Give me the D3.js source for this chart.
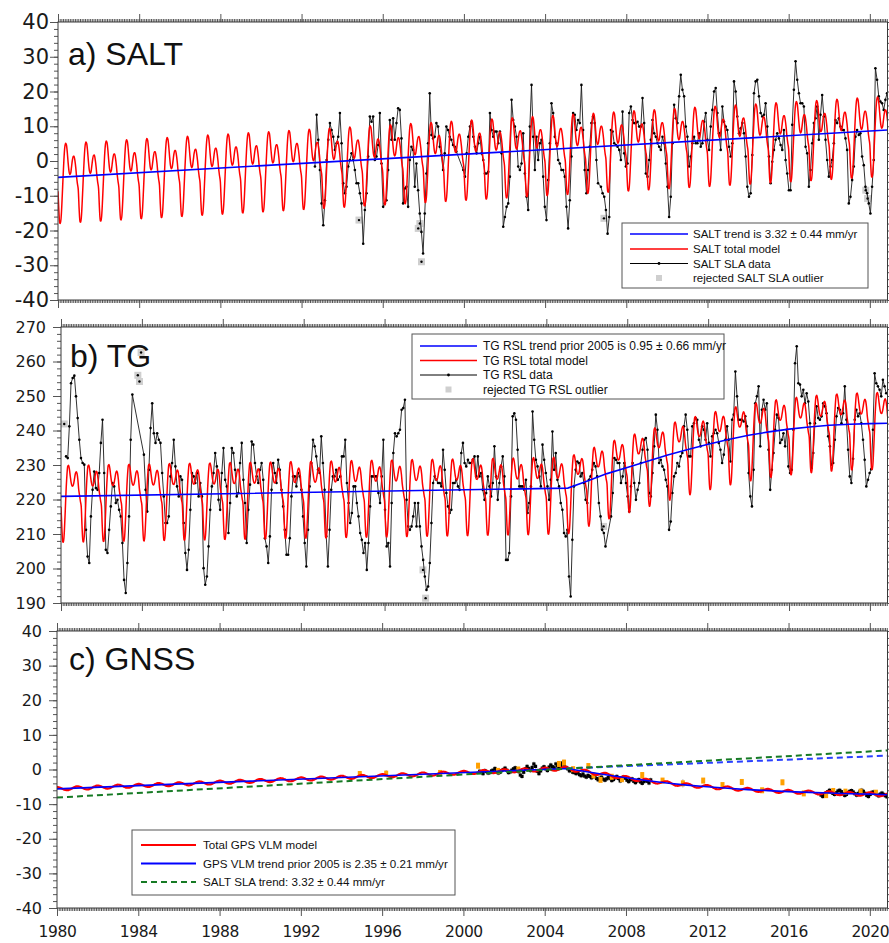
<!DOCTYPE html>
<html>
<head>
<meta charset="utf-8">
<script src="https://cdn.jsdelivr.net/npm/d3@7"></script>
<style>
  body { margin: 0; background: #fff; }
  svg { display: block; font-family: "Liberation Sans", Arial, sans-serif; }
  .tick text { font-family: "DejaVu Sans", sans-serif; fill: #1a1a1a; }
  .tick line { stroke: #555; }
</style>
</head>
<body>
<script>
const X_START = 1980, X_END = 2020.87, PLOT_RIGHT = 887.5;
const DT = 1 / 12.2;   // spacing of the monthly samples

// ---------------- a) SALT ----------------
const saltTrendYears = [1980, 2020.87];
const saltTrendValues = [-4.7, 8.9];
// mean seasonal cycle, 24 steps per year
const saltSeason = [-4, -9.5, -13.2, -13.3, -10.5, -5.5, 0, 5, 8.5, 9.7, 9.2, 7,
                    4, 1.6, 0.6, 1, 2.8, 4.7, 5.8, 5.8, 4.5, 2.5, -0.2, -2.2];
const saltStarts = [1992.66, 1999.97, 2006.75];
const saltSla1 = [-1.6, 13.3, 6.1, -2.6, -12.2, -18.5, -11.3, 0.3, 6.1, 10.9,
  8.9, 7.0, 3.2, 5.1, 7.0, 13.8, 5.1, -6.4, -9.3, -7.4,
  -1.6, 0.3, 2.2, 0.3, -2.6, -6.4, -6.4, -9.3, -12.2, -23.8,
  -14.1, -9.3, 1.3, 12.8, 11.3, 12.8, 0.3, 1.3, 4.6, 13.8,
  -0.7, -13.2, -12.2, -11.3, -2.6, 11.8, 6.1, 12.3, 6.1, 10.9,
  15.2, 14.7, 6.5, -12.2, -7.9, -7.4, -13.2, 0.3, 4.1, 3.2,
  -7.4, -0.7, -8.4, -15.1, -20.4, -26.6, -15.1, -3.6, 5.1, 19.5,
  7.5, 6.5, 7.0, 10.9, 9.9, 4.1, 1.7, -2.6, 2.2, 9.9,
  8.9, 7.0, 6.1, 4.6, 4.1, 2.7];
const saltSla2 = [-2.6, -4.5, 2.2, 7.0, 9.9, 11.3, 7.0, 4.1, 2.2, 5.1,
  7.0, 2.2, 0.3, -3.6, -3.6, -3.1, 13.8, 8.9, 7.0, 8.5,
  8.5, 5.1, 8.5, 2.2, -18.9, -16.1, -13.2, -12.2, -4.5, 17.6,
  11.8, 9.9, 7.0, -1.6, -2.6, -0.7, 8.0, -3.6, -10.3, -14.1,
  9.9, 21.9, 7.0, -2.6, 7.0, 0.3, 5.1, 6.1, -4.5, -13.2,
  -17.0, -5.5, 5.1, 16.6, 13.8, 7.0, 5.1, 0.3, -0.7, -2.6,
  -2.6, -4.5, -13.2, -19.4, -11.3, 1.3, 13.8, 13.3, 8.9, 11.8,
  10.9, 21.9, 8.9, -2.6, -9.3, -2.6, 4.1, 10.9, 12.8, 10.9,
  0.3, -6.4];
const saltSla3 = [-7.4, -9.3, -10.3, -14.1, -20.9, -16.1, 8.9, 8.5, 5.1, 4.6,
  4.1, 3.2, 0.3, 14.2, 2.2, -1.6, -0.7, 13.8, 15.7, 11.8,
  10.9, 10.9, 11.3, 9.9, 9.9, 18.1, 10.9, -3.6, -4.5, 0.3,
  6.1, 11.8, 8.0, 7.0, 5.1, 4.1, 3.2, 7.0, 5.1, -0.7,
  -7.4, -16.1, -10.3, 5.1, 16.2, 12.3, 10.9, 18.6, 24.8, 20.5,
  18.6, 9.9, 7.0, -1.6, 1.3, 5.1, 7.0, 5.1, 5.1, 8.0,
  4.1, 5.1, 11.3, 13.8, 6.1, 3.2, 9.9, 14.7, 20.0, 21.0,
  13.8, 8.0, 3.2, 15.7, 11.3, 9.9, 8.9, 4.1, 1.3, 5.1,
  22.9, 20.0, 12.8, 8.0, 9.4, 10.9, 8.0, 1.3, -7.4, -10.3,
  -9.3, 1.7, 19.5, 22.9, 23.4, 18.6, 13.8, 12.8, 13.3, 16.6,
  9.9, 1.3, -6.4, -0.2, 3.2, 6.1, 8.0, 6.5, 4.6, 3.2,
  8.9, 0.3, -3.6, -8.4, -8.4, 10.4, 20.5, 28.7, 23.4, 19.5,
  16.6, 16.6, 15.7, 4.1, 2.2, -7.4, -2.6, 5.1, 10.9, 12.3,
  15.7, 6.1, 13.3, 19.0, 12.8, 6.1, 0.3, -4.5, -1.6, 0.3,
  5.1, 11.8, 10.9, 12.3, 9.9, 8.9, 8.9, 6.5, 3.2, -12.2,
  -10.3, -5.5, -1.6, 7.0, 8.9, 7.5, 8.0, 1.3, -1.2, -7.4,
  -9.3, -12.2, -15.1, -7.4, 0.3, 26.7, 23.4, 18.6, 17.1, 16.6,
  14.7, 17.6, 19.5];
const saltOutYears = [1994.83, 1997.75, 1997.83, 1997.91, 2006.9, 2019.8, 2019.89];
const saltOutValues = [-17.0, -19.4, -18.0, -29.0, -16.5, -8.4, -10.8];

// ---------------- b) TG ----------------
const tgTrendYears = [1980, 2005.06, 2006, 2007, 2008, 2009, 2010, 2011, 2012,
                      2013, 2014, 2015, 2016, 2017, 2018, 2019, 2020, 2021];
const tgTrendValues = [220.9, 223.3, 225.3, 227.5, 229.3, 231.1, 232.9, 234.5, 236.0,
                       237.4, 238.6, 239.6, 240.4, 241.0, 241.5, 241.8, 242.0, 242.1];
const tgSeason = [-3, -9, -13.2, -13.3, -10, -4.5, 1.5, 6, 8.7, 9, 7.8, 5.8,
                  4, 3, 2.9, 3.6, 5, 6.5, 7.1, 6.6, 4.8, 2, 0.2, -1.5];
const tgStarts = [1980.25, 1984.1, 1993.81, 2007.2];
const tgRsl1 = [232.5, 232.0, 241.2, 253.7, 255.2, 255.9, 249.9, 243.6, 237.3, 232.0,
  230.6, 230.1, 211.2, 203.5, 201.6, 215.1, 222.8, 228.1, 223.3, 222.8,
  227.7, 236.4, 243.1, 227.7, 205.4, 204.5, 211.2, 218.0, 224.8, 223.8,
  219.0, 219.9, 217.0, 215.1, 207.4, 196.7, 192.9, 201.6, 215.1, 237.3,
  250.4];
const tgRsl2 = [233.0, 222.8, 216.5, 228.6, 240.7, 247.9, 239.2, 236.4, 239.2, 237.3,
  236.4, 227.7, 220.9, 213.2, 213.2, 215.1, 226.7, 230.6, 237.3, 229.6,
  223.8, 220.9, 226.7, 225.7, 213.2, 204.5, 199.6, 205.4, 217.0, 227.7,
  226.7, 224.8, 227.7, 220.9, 224.8, 220.9, 200.1, 195.3, 197.7, 206.4,
  217.0, 223.8, 227.7, 233.5, 229.6, 219.9, 217.0, 227.7, 234.9, 225.7,
  223.8, 210.3, 219.0, 234.9, 233.5, 228.6, 220.9, 221.9, 230.6, 236.4,
  225.7, 219.0, 207.4, 217.0, 224.3, 236.8, 235.9, 230.6, 226.7, 224.8,
  228.6, 230.6, 225.7, 208.8, 206.4, 201.6, 209.3, 222.8, 230.6, 227.7,
  224.8, 231.5, 228.6, 222.8, 218.0, 211.2, 204.0, 204.0, 208.8, 220.9,
  226.7, 226.7, 223.8, 227.7, 226.7, 222.8, 215.1, 207.4, 200.6, 211.2,
  223.8, 230.6, 237.3, 235.4, 232.5, 228.6, 227.7, 238.3, 230.6, 222.8,
  209.3, 200.6, 211.2, 222.8, 226.7, 226.7, 228.6, 225.7];
const tgRsl3 = [226.7, 232.5, 232.5, 237.3, 224.8, 219.0, 213.2, 216.1, 223.8, 223.8,
  219.0, 215.1, 210.3, 208.3, 204.5, 207.4, 199.6, 207.4, 218.0, 226.7,
  226.7, 226.7, 226.7, 221.9, 219.0, 226.7, 237.3, 217.0, 206.4, 207.4,
  200.6, 219.0, 233.5, 239.2, 238.3, 239.2, 240.2, 246.0, 246.5, 248.9,
  219.9, 212.2, 211.2, 212.2, 215.1, 219.0, 212.2, 219.0, 212.2, 206.4,
  202.5, 197.7, 193.8, 194.8, 201.6, 213.2, 224.8, 226.7, 225.7, 224.8,
  224.8, 223.8, 234.4, 228.6, 221.9, 218.0, 216.1, 217.0, 224.8, 224.8,
  225.7, 223.8, 222.8, 233.5, 236.4, 230.6, 229.6, 231.5, 230.6, 230.6,
  231.5, 232.5, 226.7, 232.5, 226.7, 227.7, 222.8, 219.9, 221.9, 226.7,
  223.8, 220.9, 224.8, 235.4, 226.7, 219.9, 224.8, 229.6, 232.5, 226.7,
  202.5, 202.5, 204.5, 220.9, 244.1, 245.0, 243.1, 234.4, 223.8, 223.8,
  223.8, 222.8, 225.7, 216.1, 219.0, 223.8, 245.5, 237.3, 231.5, 229.6,
  226.7, 223.8, 235.9, 231.5, 227.7, 223.8, 219.9, 225.7, 239.7, 228.6,
  233.5, 225.7, 223.8, 219.0, 217.0, 210.3, 209.3, 211.2, 197.7, 191.9,
  208.3, 223.8, 228.6, 231.0, 230.6, 226.7, 227.7, 224.8, 219.9, 219.0,
  225.7, 226.7, 228.6, 230.6, 229.6, 226.7, 219.0, 215.1, 211.2, 210.3,
  206.4];
const tgRsl4 = [215.1, 221.9, 232.0, 231.5, 230.6, 230.6, 224.8, 226.7, 230.6, 224.8,
  220.9, 216.5, 223.8, 230.6, 224.8, 219.9, 222.8, 224.8, 230.6, 234.4,
  237.3, 237.8, 234.4, 221.9, 220.9, 227.7, 235.4, 244.6, 240.2, 230.6,
  231.5, 229.6, 228.6, 225.7, 223.8, 211.2, 213.6, 221.9, 226.7, 227.7,
  230.6, 229.6, 232.5, 233.5, 241.2, 244.6, 240.2, 232.5, 232.5, 241.2,
  242.1, 243.6, 243.1, 237.3, 235.4, 241.2, 240.2, 237.3, 242.1, 236.4,
  232.5, 238.3, 239.2, 240.2, 239.2, 236.4, 234.4, 230.6, 233.0, 237.3,
  241.2, 237.3, 231.0, 243.1, 244.6, 257.1, 249.9, 243.1, 243.1, 243.1,
  242.6, 244.1, 241.2, 227.7, 220.9, 218.0, 228.6, 247.9, 249.9, 252.8,
  235.4, 246.0, 248.9, 246.0, 247.9, 234.4, 222.8, 228.6, 233.5, 240.2,
  244.6, 243.6, 236.4, 237.3, 239.2, 235.4, 240.2, 229.6, 227.7, 228.6,
  240.2, 259.5, 264.4, 253.7, 253.3, 249.9, 251.8, 247.9, 250.8, 248.4,
  242.1, 229.1, 233.5, 242.1, 247.0, 243.6, 243.1, 244.1, 247.9, 247.0,
  245.0, 238.3, 235.4, 230.1, 230.6, 237.3, 244.1, 246.5, 246.0, 242.1,
  245.0, 252.8, 243.1, 234.4, 226.7, 224.8, 231.8, 243.1, 246.0, 244.1,
  245.0, 242.1, 237.3, 231.5, 223.8, 225.7, 227.7, 228.8, 240.2, 256.6,
  253.7, 252.8, 251.8, 249.9, 254.7, 252.8, 250.8];
const tgOutYears = [1980.16, 1983.8, 1983.88, 1983.96, 1997.9, 1998.03, 2006.83];
const tgOutValues = [241.9, 256.0, 254.2, 262.6, 199.6, 191.4, 212.2];

// ---------------- c) GNSS ----------------
const gnssTrendYears = [1980, 2005.1, 2006, 2007, 2008, 2009, 2010, 2011, 2012,
                        2013, 2014, 2015, 2016, 2017, 2018, 2019, 2020, 2021];
const gnssTrendValues = [-5.6, 0.3, -0.6, -1.5, -2.4, -3.2, -3.9, -4.5, -5.0,
                         -5.4, -5.8, -6.1, -6.4, -6.6, -6.8, -7.0, -7.1, -7.3];
const gnssSeason = [0.5, 0.48, 0.43, 0.35, 0.25, 0.13, 0, -0.13, -0.25, -0.35, -0.43, -0.48,
                    -0.5, -0.48, -0.43, -0.35, -0.25, -0.13, 0, 0.13, 0.25, 0.35, 0.43, 0.48];
const gnssPre2005Years = [2005.1, 2020.87];
const gnssPre2005Values = [0.3, 4.0];
const saltSlaTrendYears = [1980, 2020.87];
const saltSlaTrendValues = [-8.1, 5.5];
const gnssStarts = [2000.8, 2017.6];
const gnssVlm1 = [-0.5, -0.8, -1.2, -0.3, -0.6, -1.0, -0.9, -0.4,
  -0.2, 0.3, -0.5, -1.0, -0.8, -0.3, 0.0, 0.4, -0.2, -0.9, -0.7, -0.2,
  0.2, 0.5, -0.1, -0.6, -1.6, -2.0, -0.8, 0.2, 0.9, 0.3, -0.3, 0.6,
  1.6, 0.9, -0.5, -1.2, -0.4, 0.4, 0.8, 0.2, -0.3, 0.7, 1.3, 0.8,
  0.5, 1.6, 1.0, 0.3, 1.2, 1.9, 1.4, 0.6, 0.2, -0.4, -0.2, -0.8,
  -0.9, -1.2, -0.8, -1.5, -1.8, -1.3, -1.9, -2.2, -1.7, -2.0, -2.4, -2.1,
  -1.9, -2.6, -3.0, -2.5, -2.2, -2.8, -3.1, -2.7, -2.3, -2.6, -3.2, -2.9,
  -2.4, -2.0, -2.6, -3.3, -2.8, -2.2, -2.5, -3.1, -3.5, -3.0, -2.7, -3.4,
  -3.8, -3.3, -2.9, -3.6, -4.0, -3.5, -3.1, -3.4, -3.9, -3.0];
const gnssVlm2 = [-7.4, -7.8, -7.3, -6.8, -6.4, -6.0, -6.5, -6.9, -7.2, -6.7, -6.2, -6.0,
  -6.4, -7.0, -7.5, -7.2, -6.6, -6.3, -6.1, -6.5, -7.0, -7.4, -6.9, -6.3,
  -6.0, -6.3, -6.9, -7.5, -7.8, -7.2, -6.6, -6.5, -6.9, -7.3, -7.6, -7.1,
  -6.8, -7.2, -7.6, -7.9];
const gnssCampYears = [1994.9, 1996.2, 1998.85, 2000.72, 2001.7, 2002.7, 2004.7, 2004.95, 2005.4,
  2006.15, 2006.4, 2006.75, 2007.3, 2007.8, 2008.8, 2009.8, 2010.8, 2011.8, 2012.75,
  2013.7, 2014.7, 2015.7, 2016.75, 2017.85, 2018.2, 2018.8, 2019.55, 2020.3];
const gnssCampValues = [-1.3, -1.2, -1.0, 1.1, -0.4, 0.0, 1.6, 2.0, 0.1,
  1.0, -1.7, -3.0, -2.1, -2.8, -1.6, -3.2, -4.0, -3.2, -4.5,
  -3.6, -6.0, -3.7, -6.9, -7.4, -6.2, -6.4, -6.4, -6.7];
const gnssCampErrors = [0.5, 1.0, 0.5, 0.4, 0.4, 0.4, 0.4, 0.8, 0.4,
  0.4, 0.4, 0.5, 0.4, 0.4, 0.4, 0.4, 1.2, 0.4, 0.4,
  0.6, 0.4, 0.7, 0.4, 0.4, 0.4, 0.4, 0.4, 0.4];

const years = d3.range(1980, 2021, 4);

// ------------------------------------------------------------
const svg = d3.select('body').append('svg').attr('width', 889).attr('height', 943);

const panels = [
  { id: 'a', left: 58, top: 22, bottom: 300, yDomain: [-40, 40], labelSize: 21, pad: 1, title: 'a) SALT', tx: 68, ty: 65 },
  { id: 'b', left: 61, top: 327, bottom: 603, yDomain: [190, 270], labelSize: 16, pad: 7, title: 'b) TG', tx: 70, ty: 367 },
  { id: 'c', left: 57, top: 631, bottom: 908, yDomain: [-40, 40], labelSize: 16, pad: 7, title: 'c) GNSS', tx: 69, ty: 670 }
];

function series(starts, arrays, dt) {
  return arrays.map((arr, k) => arr.map((v, i) => ({ t: starts[k] + i * dt, v: v })))
    .reduce((a, b) => a.concat(b), []);
}

function modelPoints(trendYears, trendValues, season) {
  const trend = d3.scaleLinear().domain(trendYears).range(trendValues);
  const n = Math.ceil((X_END - X_START) * 24);
  return d3.range(0, n + 1).map(i => {
    const t = X_START + i / 24;
    return { t: t, v: trend(t) + season[i % 24] };
  });
}

function knots(ys, vs) { return ys.map((t, i) => ({ t: t, v: vs[i] })); }

function makePanel(p) {
  const x = d3.scaleLinear().domain([X_START, X_END]).range([p.left, PLOT_RIGHT]);
  const y = d3.scaleLinear().domain(p.yDomain).range([p.bottom, p.top]);
  svg.append('clipPath').attr('id', 'clip-' + p.id)
    .append('rect')
    .attr('x', p.left).attr('y', p.top)
    .attr('width', PLOT_RIGHT - p.left).attr('height', p.bottom - p.top);
  const plot = svg.append('g').attr('clip-path', `url(#clip-${p.id})`);
  const line = d3.line().x(d => x(d.t)).y(d => y(d.v));
  const smooth = d3.line().x(d => x(d.t)).y(d => y(d.v)).curve(d3.curveMonotoneX);
  return { x, y, plot, line, smooth };
}

function drawAxes(p, x, y, xLabels) {
  const g = svg.append('g');
  const months = d3.range(1980, X_END, 1 / 12);
  const minorY = d3.range(p.yDomain[0], p.yDomain[1] + 0.1, 2);
  const majorY = d3.range(p.yDomain[0], p.yDomain[1] + 0.1, 10);
  const strip = sel => sel.select('.domain').remove();

  g.append('g').attr('transform', `translate(0,${p.bottom})`)
    .call(d3.axisBottom(x).tickValues(months).tickSize(3).tickFormat('')).call(strip);
  g.append('g').attr('transform', `translate(0,${p.bottom})`)
    .call(d3.axisBottom(x).tickValues(years).tickSize(8).tickPadding(10)
      .tickFormat(xLabels ? (d => String(d)) : '')).call(strip)
    .selectAll('text').style('font-size', '15.5px').style('letter-spacing', '-0.4px');
  g.append('g').attr('transform', `translate(0,${p.top})`)
    .call(d3.axisTop(x).tickValues(months).tickSize(3).tickFormat('')).call(strip);
  g.append('g').attr('transform', `translate(0,${p.top})`)
    .call(d3.axisTop(x).tickValues(years).tickSize(8).tickFormat('')).call(strip);

  g.append('g').attr('transform', `translate(${p.left},0)`)
    .call(d3.axisLeft(y).tickValues(minorY).tickSize(4).tickFormat('')).call(strip);
  // plain hyphen for negative labels, as in the original figure
  g.append('g').attr('transform', `translate(${p.left},0)`)
    .call(d3.axisLeft(y).tickValues(majorY).tickSize(8).tickPadding(p.pad)
      .tickFormat(d => String(d))).call(strip)
    .selectAll('text').style('font-size', p.labelSize + 'px');
  g.append('g').attr('transform', `translate(${PLOT_RIGHT},0)`)
    .call(d3.axisRight(y).tickValues(minorY).tickSize(4).tickFormat('')).call(strip);

  g.append('rect')
    .attr('x', p.left).attr('y', p.top)
    .attr('width', PLOT_RIGHT - p.left).attr('height', p.bottom - p.top)
    .attr('fill', 'none').attr('stroke', '#3a3a3a').attr('stroke-width', 1);

  svg.append('text').attr('x', p.tx).attr('y', p.ty)
    .attr('font-size', 32).attr('fill', '#111').text(p.title);
}

function drawData(P, pts) {
  P.plot.append('path').datum(pts)
    .attr('fill', 'none').attr('stroke', '#1a1a1a').attr('stroke-width', 0.9)
    .attr('d', P.line);
  P.plot.append('g').selectAll('circle').data(pts).join('circle')
    .attr('cx', d => P.x(d.t)).attr('cy', d => P.y(d.v)).attr('r', 1.3).attr('fill', '#000');
}

function drawOutliers(P, ys, vs) {
  const g = P.plot.append('g');
  g.selectAll('rect').data(ys).join('rect')
    .attr('x', (d) => P.x(d) - 3.5).attr('y', (d, i) => P.y(vs[i]) - 3.5)
    .attr('width', 7).attr('height', 7).attr('fill', '#cfcfcf');
  g.selectAll('circle').data(ys).join('circle')
    .attr('cx', d => P.x(d)).attr('cy', (d, i) => P.y(vs[i])).attr('r', 1.2).attr('fill', '#000');
}

function drawLegend(box, rows, lx0, lx1, tx, fs) {
  const g = svg.append('g');
  g.append('rect').attr('x', box.x).attr('y', box.y).attr('width', box.w).attr('height', box.h)
    .attr('fill', '#fff').attr('stroke', '#555').attr('stroke-width', 1);
  rows.forEach(r => {
    if (r.kind === 'square') {
      g.append('rect').attr('x', (lx0 + lx1) / 2 - 3).attr('y', r.y - 3)
        .attr('width', 6).attr('height', 6).attr('fill', '#cfcfcf');
    } else {
      g.append('line').attr('x1', lx0).attr('x2', lx1).attr('y1', r.y).attr('y2', r.y)
        .attr('stroke', r.color).attr('stroke-width', r.width || 1.6)
        .attr('stroke-dasharray', r.dash || null);
      if (r.dot) {
        g.append('circle').attr('cx', (lx0 + lx1) / 2).attr('cy', r.y).attr('r', 1.4).attr('fill', '#000');
      }
    }
    g.append('text').attr('x', tx).attr('y', r.y).attr('dy', '0.35em')
      .attr('font-size', fs).attr('fill', '#111').text(r.label);
  });
}

// ---------------- panel a ----------------
const pa = panels[0];
const A = makePanel(pa);
drawOutliers(A, saltOutYears, saltOutValues);
drawData(A, series(saltStarts, [saltSla1, saltSla2, saltSla3], DT));
A.plot.append('path').datum(modelPoints(saltTrendYears, saltTrendValues, saltSeason))
  .attr('fill', 'none').attr('stroke', '#ff0000').attr('stroke-width', 1.5)
  .attr('d', A.smooth);
A.plot.append('path').datum(knots(saltTrendYears, saltTrendValues))
  .attr('fill', 'none').attr('stroke', '#0000ff').attr('stroke-width', 1.6).attr('d', A.line);
drawAxes(pa, A.x, A.y, false);
drawLegend({ x: 622, y: 223, w: 246, h: 65 }, [
  { y: 234, color: '#0000ff', label: 'SALT trend is 3.32 \u00b1 0.44 mm/yr' },
  { y: 249, color: '#ff0000', label: 'SALT total model' },
  { y: 263.5, color: '#000', width: 1, dot: true, label: 'SALT SLA data' },
  { y: 278, kind: 'square', label: 'rejected SALT SLA outlier' }
], 630, 688, 693, 11.5);

// ---------------- panel b ----------------
const pb = panels[1];
const B = makePanel(pb);
drawOutliers(B, tgOutYears, tgOutValues);
drawData(B, series(tgStarts, [tgRsl1, tgRsl2, tgRsl3, tgRsl4], DT));
B.plot.append('path').datum(modelPoints(tgTrendYears, tgTrendValues, tgSeason))
  .attr('fill', 'none').attr('stroke', '#ff0000').attr('stroke-width', 1.5)
  .attr('d', B.smooth);
B.plot.append('path').datum(knots(tgTrendYears, tgTrendValues))
  .attr('fill', 'none').attr('stroke', '#0000ff').attr('stroke-width', 1.6).attr('d', B.line);
drawAxes(pb, B.x, B.y, false);
drawLegend({ x: 412, y: 334, w: 312, h: 65 }, [
  { y: 346, color: '#0000ff', label: 'TG RSL trend prior 2005 is 0.95 \u00b1 0.66 mm/yr' },
  { y: 360.5, color: '#ff0000', label: 'TG RSL total model' },
  { y: 375, color: '#000', width: 1, dot: true, label: 'TG RSL data' },
  { y: 389.5, kind: 'square', label: 'rejected TG RSL outlier' }
], 420, 477, 483, 12);

// ---------------- panel c ----------------
const pc = panels[2];
const C = makePanel(pc);
const gnssPts = series(gnssStarts, [gnssVlm1, gnssVlm2], 1 / 12);
// continuous data: grey error bars and black markers
C.plot.append('g').selectAll('line').data(gnssPts).join('line')
  .attr('x1', d => C.x(d.t)).attr('x2', d => C.x(d.t))
  .attr('y1', d => C.y(d.v - 0.7)).attr('y2', d => C.y(d.v + 0.7))
  .attr('stroke', '#b5b5b5').attr('stroke-width', 1);
C.plot.append('g').selectAll('rect').data(gnssPts).join('rect')
  .attr('x', d => C.x(d.t) - 1.6).attr('y', d => C.y(d.v) - 1.6)
  .attr('width', 3.2).attr('height', 3.2).attr('fill', '#000');
// campaign points
const camp = C.plot.append('g');
camp.selectAll('line').data(gnssCampYears).join('line')
  .attr('x1', d => C.x(d)).attr('x2', d => C.x(d))
  .attr('y1', (d, i) => C.y(gnssCampValues[i] - gnssCampErrors[i]))
  .attr('y2', (d, i) => C.y(gnssCampValues[i] + gnssCampErrors[i]))
  .attr('stroke', '#b0b0b0').attr('stroke-width', 1);
camp.selectAll('rect').data(gnssCampYears).join('rect')
  .attr('x', d => C.x(d) - 2).attr('y', (d, i) => C.y(gnssCampValues[i]) - 3)
  .attr('width', 4).attr('height', 6).attr('fill', '#ffa000');
C.plot.append('path').datum(modelPoints(gnssTrendYears, gnssTrendValues, gnssSeason))
  .attr('fill', 'none').attr('stroke', '#ff0000').attr('stroke-width', 2.2)
  .attr('d', C.smooth);
C.plot.append('path').datum(knots(gnssTrendYears, gnssTrendValues))
  .attr('fill', 'none').attr('stroke', '#0000ff').attr('stroke-width', 1.6).attr('d', C.line);
C.plot.append('path').datum(knots(gnssPre2005Years, gnssPre2005Values))
  .attr('fill', 'none').attr('stroke', '#2a40ff').attr('stroke-width', 2)
  .attr('stroke-dasharray', '6,4').attr('d', C.line);
C.plot.append('path').datum(knots(saltSlaTrendYears, saltSlaTrendValues))
  .attr('fill', 'none').attr('stroke', '#167a24').attr('stroke-width', 2)
  .attr('stroke-dasharray', '6,4').attr('d', C.line);
drawAxes(pc, C.x, C.y, true);
drawLegend({ x: 132, y: 830, w: 323, h: 65 }, [
  { y: 845, color: '#ff0000', width: 2, label: 'Total GPS VLM model' },
  { y: 863.5, color: '#0000ff', width: 2, label: 'GPS VLM trend prior 2005 is 2.35 \u00b1 0.21 mm/yr' },
  { y: 882, color: '#167a24', width: 2, dash: '6,4', label: 'SALT SLA trend: 3.32 \u00b1 0.44 mm/yr' }
], 141, 196, 203, 11.6);
</script>
</body>
</html>
